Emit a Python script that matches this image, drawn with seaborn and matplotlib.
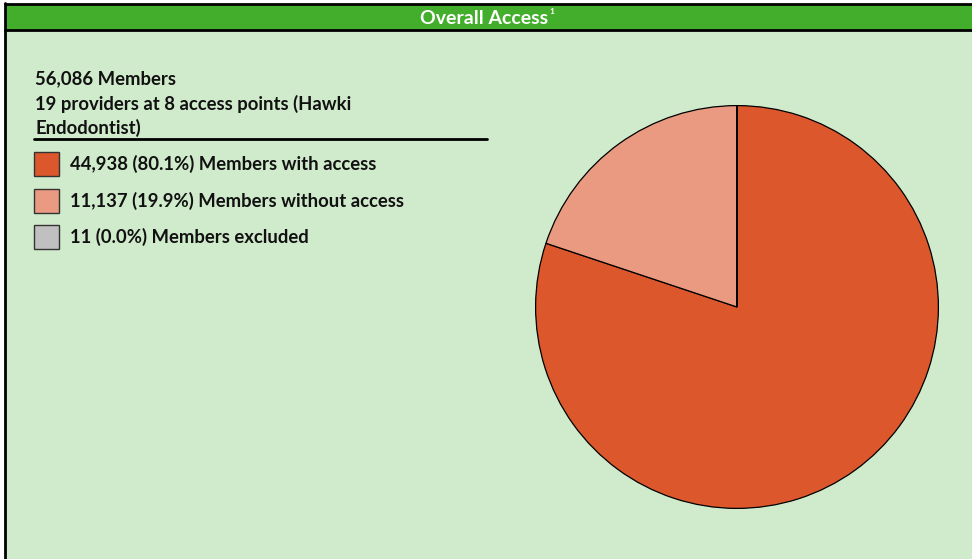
import matplotlib
matplotlib.use("Agg")
import matplotlib.pyplot as plt
import seaborn as sns
from matplotlib.patches import Rectangle

# Data
labels = ["Members with access", "Members without access", "Members excluded"]
counts = [44938, 11137, 11]
pcts = ["80.1%", "19.9%", "0.0%"]
colors = ["#DC572B", "#EA9A80", "#C0C0C0"]
header_lines = ["56,086 Members",
                "19 providers at 8 access points (Hawki",
                "Endodontist)"]
title = "Overall Access"

sns.set_style("white")
plt.rcParams["font.family"] = ["Lato", "DejaVu Sans"]

W, H = 972, 559
fig = plt.figure(figsize=(W / 100, H / 100), dpi=100)
fig.patch.set_facecolor("white")

# background canvas in pixel coordinates
bg = fig.add_axes([0, 0, 1, 1])
bg.set_xlim(0, W)
bg.set_ylim(H, 0)
bg.axis("off")

bg.add_patch(Rectangle((5, 4), W - 5, H - 4, facecolor="#D0EBCB", edgecolor="none"))
bg.add_patch(Rectangle((5, 4), W - 5, 26, facecolor="#43AE2B", edgecolor="none"))
bg.plot([5, 5], [3, H], color="black", lw=2)
bg.plot([5, W], [4, 4], color="black", lw=2)
bg.plot([5, W], [30, 30], color="black", lw=2)

t = bg.text(484, 18, title, color="white", fontsize=14, fontweight="bold",
            ha="center", va="center")
fig.canvas.draw()
x_end = t.get_window_extent().x1  # display px == data x on this canvas
bg.text(x_end + 1.5, 12, "1", color="white", fontsize=6, fontweight="bold",
        ha="left", va="center")

for i, line in enumerate(header_lines):
    bg.text(35, 79 + i * 24.5, line, fontsize=13.3, fontweight="bold",
            ha="left", va="center", color="#111111")
bg.plot([34, 487], [139, 139], color="black", lw=2)

for i, (lab, c, p, col) in enumerate(zip(labels, counts, pcts, colors)):
    y = 164 + i * 36.5
    bg.add_patch(Rectangle((34, y - 12), 25, 24, facecolor=col,
                           edgecolor="#333333", lw=1))
    bg.text(70, y, f"{c:,} ({p}) {lab}", fontsize=13.3, fontweight="bold",
            ha="left", va="center", color="#111111")

# pie
cx, cy, r = 737, 307, 202
ax = fig.add_axes([(cx - r) / W, (H - cy - r) / H, 2 * r / W, 2 * r / H])
ax.pie(counts, colors=colors, startangle=90, counterclock=False,
       wedgeprops=dict(edgecolor="black", linewidth=0.9))
ax.set_xlim(-1.003, 1.003)
ax.set_ylim(-1.003, 1.003)
ax.set_aspect("equal")
ax.axis("off")

fig.savefig("out.png", dpi=100)
